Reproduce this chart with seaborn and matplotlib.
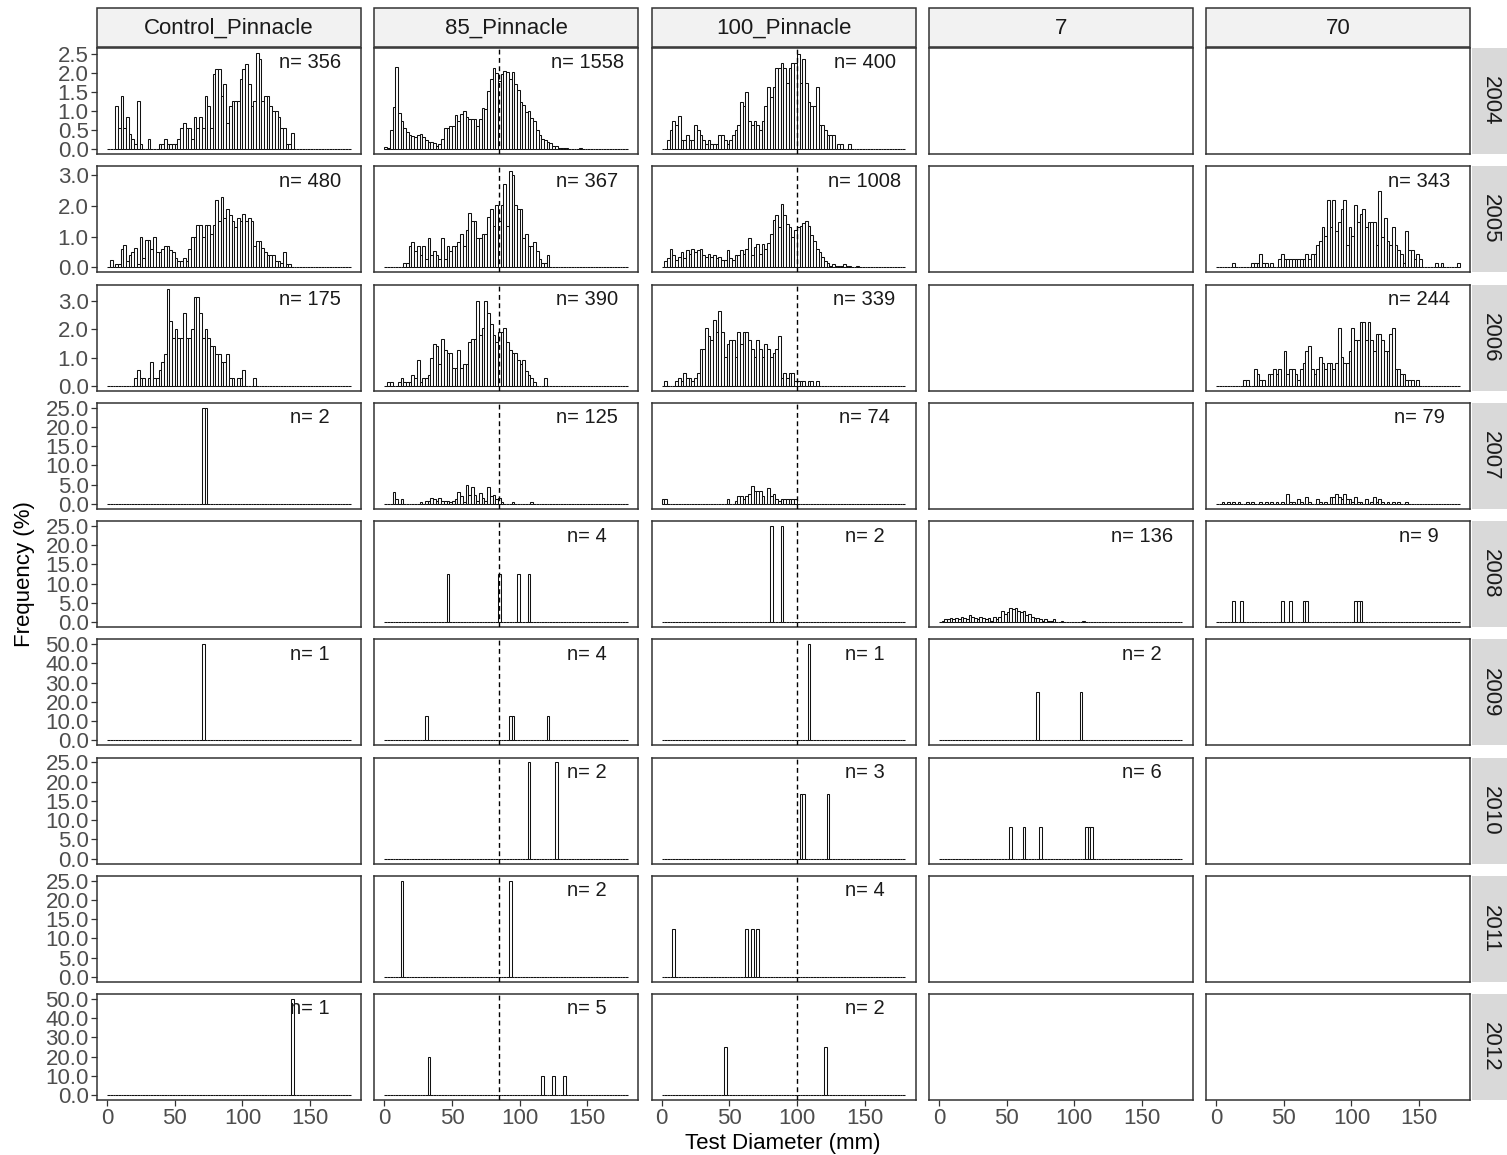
import numpy as np
import pandas as pd
import matplotlib
matplotlib.use("Agg")
import matplotlib.pyplot as plt
import seaborn as sns
from matplotlib.patches import Rectangle
from matplotlib.ticker import FixedLocator, FormatStrFormatter
from matplotlib.transforms import blended_transform_factory

# ---------------------------------------------------------------------------
# Facet layout
# ---------------------------------------------------------------------------
sites = ["Control_Pinnacle", "85_Pinnacle", "100_Pinnacle", "7", "70"]
years = [2004, 2005, 2006, 2007, 2008, 2009, 2010, 2011, 2012]
ref_depth = {"85_Pinnacle": 85, "100_Pinnacle": 100}
y_step = {2004: 0.5, 2005: 1.0, 2006: 1.0, 2007: 5, 2008: 5,
          2009: 10, 2010: 5, 2011: 5, 2012: 10}
x_ticks = [0, 50, 100, 150]
bin_edges = [float(b) for b in range(0, 182, 2)]


def run(start, values):
    """Consecutive 2-mm bins starting at `start` mm -> {bin start: %}."""
    return {start + 2 * i: v for i, v in enumerate(values)}


# ---------------------------------------------------------------------------
# Frequency (%) per 2-mm test-diameter bin
# ---------------------------------------------------------------------------
# 2004
ctrl_2004 = run(6, [1.13, 0.55, 1.4, 0.55, 0.85, 0.4, 0.28, 0.14, 1.27, 0.14,
                    0, 0, 0.28, 0, 0, 0, 0.14, 0.14, 0.28, 0.14,
                    0.14, 0.14, 0.14, 0.28, 0.55, 0.7, 0.55, 0.55, 0.28, 0.85,
                    0.55, 0.85, 0.55, 1.4, 1.13, 0.55, 1.97, 2.1, 2.1, 1.4,
                    1.7, 0.7, 1.13, 1.27, 1.27, 1.27, 1.83, 2.1, 2.24, 1.7,
                    1.13, 1.27, 2.53, 2.37, 1.27, 1.4, 1.4, 1.13, 1.0, 1.0,
                    0.85, 0.55, 0.55, 0.14, 0.14, 0.42])
p85_2004 = run(0, [0.06, 0.03, 0.5, 1.1, 2.16, 0.95, 0.75, 0.55, 0.45, 0.37,
                   0.34, 0.32, 0.37, 0.4, 0.32, 0.24, 0.2, 0.2, 0.15, 0.08,
                   0.13, 0.28, 0.55, 0.55, 0.62, 0.6, 0.9, 0.75, 0.92, 1.0,
                   0.85, 0.8, 0.8, 0.8, 0.6, 0.8, 1.07, 1.05, 1.53, 1.84,
                   2.14, 2.0, 1.8, 1.97, 2.05, 2.03, 1.83, 2.03, 1.72, 1.55,
                   1.25, 1.15, 0.98, 1.0, 0.83, 0.75, 0.5, 0.37, 0.28, 0.24,
                   0.2, 0.15, 0.08, 0.08, 0.04, 0.04, 0.04, 0.04, 0, 0,
                   0, 0, 0.04])
p100_2004 = run(4, [0.25, 0.5, 0.75, 0.625, 0.875, 0.25, 0.25, 0.375, 0.25, 0.25,
                    0.625, 0.5, 0.375, 0.25, 0.125, 0.25, 0.125, 0.125, 0.125, 0.375,
                    0.375, 0.25, 0.125, 0.25, 0.375, 0.5, 0.625, 1.25, 1.125, 1.5,
                    0.75, 0.625, 0.75, 0.625, 0.5, 0.75, 1.125, 1.625, 1.375, 1.625,
                    2.125, 2.125, 2.25, 2.125, 1.75, 2.125, 2.25, 2.25, 2.5, 1.75,
                    2.375, 1.75, 1.25, 1.125, 1.125, 1.625, 0.625, 0.625, 0.5, 0.375,
                    0.375, 0.375, 0, 0.125, 0.125, 0, 0, 0.125])

# 2005
ctrl_2005 = run(2, [0.25, 0, 0.1, 0.1, 0.6, 0.72, 0.2, 0.42, 0.5, 0.62,
                    0.1, 1.0, 0.3, 0.9, 0.9, 0.6, 1.0, 0.5, 0.5, 0.6,
                    0.7, 0.7, 0.55, 0.5, 0.3, 0.2, 0.2, 0.3, 0.2, 0.6,
                    1.0, 1.0, 1.37, 1.37, 1.0, 1.37, 1.37, 1.1, 1.37, 2.2,
                    1.5, 2.3, 1.6, 1.9, 1.7, 1.5, 1.3, 1.6, 1.5, 1.75,
                    1.5, 1.6, 1.5, 0.7, 0.85, 0.85, 0.62, 0.5, 0.4, 0.4,
                    0.4, 0.2, 0.2, 0.15, 0.5, 0.1, 0.1])
p85_2005 = run(14, [0.14, 0.14, 0.68, 0.82, 0.54, 0.68, 0.41, 0.68, 0.27, 0.95,
                    0.41, 0.54, 0.41, 0.27, 0.95, 0.27, 0.68, 0.54, 0.68, 0.68,
                    0.82, 1.09, 0.68, 1.2, 1.77, 1.5, 1.5, 0.95, 0.95, 1.09,
                    1.09, 1.63, 1.9, 1.36, 2.04, 1.5, 2.04, 2.72, 1.36, 3.13,
                    2.99, 2.04, 1.9, 1.9, 0.95, 1.09, 0.68, 0.68, 0.82, 0.54,
                    0.27, 0.14, 0.14, 0.41])
p100_2005 = run(2, [0.2, 0.3, 0.6, 0.4, 0.25, 0.35, 0.5, 0.3, 0.55, 0.45,
                    0.6, 0.5, 0.55, 0.6, 0.4, 0.35, 0.45, 0.35, 0.4, 0.3,
                    0.35, 0.25, 0.25, 0.55, 0.3, 0.25, 0.4, 0.4, 0.55, 0.45,
                    0.6, 0.95, 0.4, 0.65, 0.75, 0.45, 0.75, 0.6, 0.8, 1.1,
                    1.55, 1.7, 1.3, 2.05, 1.7, 1.4, 1.3, 1.0, 1.2, 1.3,
                    1.35, 1.45, 1.5, 1.35, 1.05, 0.85, 0.6, 0.5, 0.35, 0.2,
                    0.15, 0.05, 0.1, 0.05, 0.05, 0.05, 0.1, 0.05, 0.05, 0,
                    0, 0.05])
s70_2005 = run(12, [0.15, 0, 0, 0, 0, 0, 0, 0.15, 0.15, 0.15,
                    0.44, 0.15, 0.15, 0, 0.15, 0, 0, 0.29, 0.44, 0.29,
                    0.29, 0.29, 0.29, 0.29, 0.29, 0.29, 0.29, 0.44, 0.29, 0.44,
                    0.44, 0.73, 0.87, 1.31, 1.02, 2.19, 1.31, 2.19, 1.17, 1.46,
                    1.9, 2.19, 0.73, 1.31, 1.02, 2.04, 1.46, 1.75, 1.9, 1.31,
                    1.46, 1.46, 1.46, 0.73, 2.48, 1.0, 1.61, 0.87, 0.73, 1.31,
                    0.73, 0.58, 0.44, 0.15, 1.17, 0.58, 0.58, 0.29, 0.44, 0.29,
                    0, 0, 0, 0, 0, 0.15, 0, 0.15, 0, 0,
                    0, 0, 0, 0.15])

# 2006
ctrl_2006 = run(20, [0.29, 0.57, 0.29, 0.29, 0, 0.29, 0.86, 0.29, 0.29, 0.57,
                     0.86, 1.14, 3.43, 2.29, 1.71, 2.0, 1.71, 1.71, 2.57, 1.71,
                     1.71, 2.0, 3.14, 3.14, 2.57, 1.71, 2.0, 1.71, 1.43, 1.43,
                     1.14, 1.14, 0.86, 0.86, 1.14, 0.29, 0.29, 0, 0.29, 0.29,
                     0.57, 0, 0, 0, 0.29])
p85_2006 = run(2, [0.13, 0.13, 0, 0, 0.13, 0.26, 0.13, 0.13, 0.13, 0.38,
                   0.26, 0.9, 0.13, 0.26, 0.26, 0.38, 1.0, 1.5, 1.4, 0.77,
                   1.67, 1.28, 1.15, 1.15, 0.64, 0.64, 1.28, 0.64, 0.77, 0.77,
                   1.54, 1.67, 1.67, 3.0, 1.8, 2.05, 3.0, 2.6, 2.2, 1.79,
                   1.54, 1.92, 1.92, 2.05, 1.54, 1.28, 1.15, 1.15, 0.9, 0.77,
                   0.9, 0.51, 0.38, 0.26, 0.13, 0, 0, 0, 0.26])
p100_2006 = run(2, [0.15, 0, 0, 0, 0.15, 0.29, 0.15, 0.44, 0.29, 0.29,
                    0.15, 0.29, 0.44, 1.32, 1.32, 2.06, 1.76, 1.62, 2.35, 1.91,
                    2.65, 1.91, 1.03, 1.47, 1.62, 1.62, 1.03, 1.91, 1.47, 1.91,
                    1.91, 1.62, 1.32, 1.03, 1.62, 1.32, 1.03, 1.47, 1.32, 1.03,
                    1.18, 1.32, 1.76, 0.29, 0.44, 0.29, 0.44, 0.44, 0.15, 0.15,
                    0.15, 0.15, 0, 0.15, 0.15, 0, 0.15])
s70_2006 = run(20, [0.2, 0.2, 0, 0, 0.61, 0.41, 0.2, 0.2, 0, 0.41,
                    0.41, 0.61, 0.41, 0.61, 0, 1.23, 0.41, 0.61, 0.61, 0.41,
                    0.2, 0.61, 0.82, 1.23, 1.43, 0.61, 0.41, 0.61, 1.02, 0.82,
                    0.61, 0.82, 0.82, 0.61, 0.82, 2.04, 1.02, 0.82, 0.82, 1.23,
                    2.04, 1.64, 1.64, 2.25, 2.25, 1.64, 2.25, 1.64, 1.23, 1.84,
                    1.84, 1.64, 1.23, 1.23, 1.84, 2.04, 0.61, 0.61, 0.41, 0.41,
                    0.2, 0.2, 0.2, 0, 0.2])

# 2007
ctrl_2007 = {70: 25.0, 72: 25.0}
p85_2007 = {6: 3.2, 8: 1.2, 12: 1.2,
            **run(26, [0.4, 0, 0.8, 0.8, 1.6, 1.2, 0.8, 1.6, 0.8, 0.8,
                       0.8, 0.4, 0.8, 1.2, 3.2, 2.0, 0.4, 4.8, 2.4, 4.4,
                       2.4, 0.8, 2.8, 1.6, 0.8, 4.4, 2.0, 2.4, 1.2, 1.6,
                       0.4]),
            94: 0.4, 108: 0.4}
p100_2007 = {0: 1.35, 2: 1.35, 48: 1.35,
             **run(54, [0.68, 2.03, 2.03, 1.35, 2.03, 2.7, 4.73, 3.38, 3.38, 3.38,
                        2.03, 0, 4.05, 2.03, 2.7, 1.35, 0.68, 1.35, 1.35, 1.35,
                        1.35, 1.35, 1.35])}
s70_2007 = {4: 0.63, 8: 0.63, 12: 0.63, 16: 0.63, 22: 0.63, 26: 0.63, 32: 0.63,
            36: 0.63, 40: 0.63, 44: 0.63, 48: 0.63, 52: 2.53, 54: 0.63, 56: 0.63,
            60: 1.27, 62: 0.63, 66: 1.9, 68: 0.63, 74: 1.27, 76: 0.63, 80: 0.63,
            84: 1.9, 86: 1.9, 88: 2.53, 90: 1.9, 92: 1.27, 94: 2.53, 96: 1.27,
            98: 1.27, 100: 0.63, 102: 1.9, 104: 0.63, 106: 0.63, 110: 1.27,
            114: 0.63, 116: 1.9, 118: 0.63, 120: 1.27, 122: 0.63, 126: 0.63,
            130: 0.63, 134: 0.63, 140: 0.63}

# 2008
p85_2008 = {46: 12.5, 84: 12.5, 98: 12.5, 106: 12.5}
p100_2008 = {80: 25.0, 88: 25.0}
s7_2008 = run(2, [0.37, 0.74, 0.74, 1.1, 0.74, 1.1, 0.74, 1.47, 1.1, 0.74,
                  1.84, 1.47, 1.1, 0.74, 1.47, 1.1, 0.74, 1.1, 0.37, 1.47,
                  0.74, 1.47, 2.94, 2.2, 2.57, 3.68, 3.31, 3.68, 2.94, 2.57,
                  2.94, 1.84, 2.2, 1.47, 1.1, 1.1, 0.74, 0.37, 0.74, 0.37,
                  0.37, 0.74, 0, 0, 0.37, 0, 0, 0, 0, 0,
                  0, 0, 0.37])
s70_2008 = {12: 5.56, 18: 5.56, 48: 5.56, 54: 5.56, 64: 5.56, 66: 5.56,
            102: 5.56, 104: 5.56, 106: 5.56}

# 2009
ctrl_2009 = {70: 50.0}
p85_2009 = {30: 12.5, 92: 12.5, 94: 12.5, 120: 12.5}
p100_2009 = {108: 50.0}
s7_2009 = {72: 25.0, 104: 25.0}

# 2010
p85_2010 = {106: 25.0, 126: 25.0}
p100_2010 = {102: 16.67, 104: 16.67, 122: 16.67}
s7_2010 = {52: 8.33, 62: 8.33, 74: 8.33, 108: 8.33, 110: 8.33, 112: 8.33}

# 2011
p85_2011 = {12: 25.0, 92: 25.0}
p100_2011 = {8: 12.5, 62: 12.5, 66: 12.5, 70: 12.5}

# 2012
ctrl_2012 = {136: 50.0}
p85_2012 = {32: 20.0, 116: 10.0, 124: 10.0, 132: 10.0}
p100_2012 = {46: 25.0, 120: 25.0}

# (year, site, n, frequencies)
panels = [
    (2004, "Control_Pinnacle", 356, ctrl_2004),
    (2004, "85_Pinnacle", 1558, p85_2004),
    (2004, "100_Pinnacle", 400, p100_2004),
    (2005, "Control_Pinnacle", 480, ctrl_2005),
    (2005, "85_Pinnacle", 367, p85_2005),
    (2005, "100_Pinnacle", 1008, p100_2005),
    (2005, "70", 343, s70_2005),
    (2006, "Control_Pinnacle", 175, ctrl_2006),
    (2006, "85_Pinnacle", 390, p85_2006),
    (2006, "100_Pinnacle", 339, p100_2006),
    (2006, "70", 244, s70_2006),
    (2007, "Control_Pinnacle", 2, ctrl_2007),
    (2007, "85_Pinnacle", 125, p85_2007),
    (2007, "100_Pinnacle", 74, p100_2007),
    (2007, "70", 79, s70_2007),
    (2008, "85_Pinnacle", 4, p85_2008),
    (2008, "100_Pinnacle", 2, p100_2008),
    (2008, "7", 136, s7_2008),
    (2008, "70", 9, s70_2008),
    (2009, "Control_Pinnacle", 1, ctrl_2009),
    (2009, "85_Pinnacle", 4, p85_2009),
    (2009, "100_Pinnacle", 1, p100_2009),
    (2009, "7", 2, s7_2009),
    (2010, "85_Pinnacle", 2, p85_2010),
    (2010, "100_Pinnacle", 3, p100_2010),
    (2010, "7", 6, s7_2010),
    (2011, "85_Pinnacle", 2, p85_2011),
    (2011, "100_Pinnacle", 4, p100_2011),
    (2012, "Control_Pinnacle", 1, ctrl_2012),
    (2012, "85_Pinnacle", 5, p85_2012),
    (2012, "100_Pinnacle", 2, p100_2012),
]

records = []
for year, site, n, freq in panels:
    for lo, pct in freq.items():
        records.append({"year": year, "site": site, "n": n,
                        "diameter": lo + 1.0, "pct": pct})
df = pd.DataFrame(records)

# ---------------------------------------------------------------------------
# Figure
# ---------------------------------------------------------------------------
sns.set_style("white")
plt.rcParams["font.family"] = ["Liberation Sans", "DejaVu Sans"]

W, H = 1507, 1155
fig = plt.figure(figsize=(W / 100, H / 100), dpi=100)

col_left = [97 + 277.25 * j for j in range(len(sites))]
row_top = [48 + 118.25 * i for i in range(len(years))]
pw, ph = 264, 106

tick_col = "#4d4d4d"
edge_col = "#333333"

for i, year in enumerate(years):
    row = df[df["year"] == year]
    ymax = row["pct"].max()
    lim = (-0.05 * ymax, 1.05 * ymax)
    yt = np.arange(0, ymax + 1e-9, y_step[year])
    for j, site in enumerate(sites):
        ax = fig.add_axes([col_left[j] / W, 1 - (row_top[i] + ph) / H, pw / W, ph / H])
        sub = row[row["site"] == site]
        if len(sub):
            sns.histplot(data=sub, x="diameter", weights="pct", bins=bin_edges,
                         ax=ax, color="white", edgecolor="#111111",
                         linewidth=0.75, alpha=1, legend=False)
            n = int(sub["n"].iloc[0])
            ax.text(150, 1 - 15 / ph, f"n= {n}",
                    transform=blended_transform_factory(ax.transData, ax.transAxes),
                    ha="center", va="center", fontsize=14.5, color="#1a1a1a")
        if site in ref_depth:
            ax.axvline(ref_depth[site], color="black", lw=1.0,
                       ls=(0, (3.5, 2.5)), zorder=6)
        ax.set_xlim(-7.5, 187.7)
        ax.set_ylim(*lim)
        ax.set_xlabel("")
        ax.set_ylabel("")
        ax.xaxis.set_major_locator(FixedLocator(x_ticks))
        ax.yaxis.set_major_locator(FixedLocator(yt))
        ax.yaxis.set_major_formatter(FormatStrFormatter("%.1f"))
        for sp in ax.spines.values():
            sp.set_visible(True)
            sp.set_color(edge_col)
            sp.set_linewidth(1.1)
        ax.tick_params(axis="both", colors=edge_col, labelcolor=tick_col,
                       labelsize=16, length=4, width=0.9, pad=2)
        ax.tick_params(axis="y", left=(j == 0), labelleft=(j == 0))
        ax.tick_params(axis="x", bottom=(i == len(years) - 1),
                       labelbottom=(i == len(years) - 1))
        ax.grid(False)

        # column strip
        if i == 0:
            fig.patches.append(Rectangle((col_left[j] / W, 1 - 47 / H), pw / W, 39 / H,
                                         transform=fig.transFigure, facecolor="#f2f2f2",
                                         edgecolor=edge_col, linewidth=1.1))
            fig.text((col_left[j] + pw / 2) / W, 1 - 28 / H, site, ha="center",
                     va="center", fontsize=16, color="#1a1a1a")
    # row strip
    fig.patches.append(Rectangle((1472 / W, 1 - (row_top[i] + ph) / H), 40 / W, ph / H,
                                 transform=fig.transFigure, facecolor="#d9d9d9",
                                 edgecolor="none"))
    fig.text(1490 / W, 1 - (row_top[i] + ph / 2) / H, str(year), rotation=-90,
             ha="center", va="center", fontsize=16, color="#1a1a1a")

fig.text(783 / W, 1 - 1143 / H, "Test Diameter (mm)", ha="center", va="center",
         fontsize=16, color="black")
fig.text(25 / W, 1 - 574 / H, "Frequency (%)", rotation=90, ha="center",
         va="center", fontsize=16, color="black")

fig.savefig("out.png", dpi=100, facecolor="white")
